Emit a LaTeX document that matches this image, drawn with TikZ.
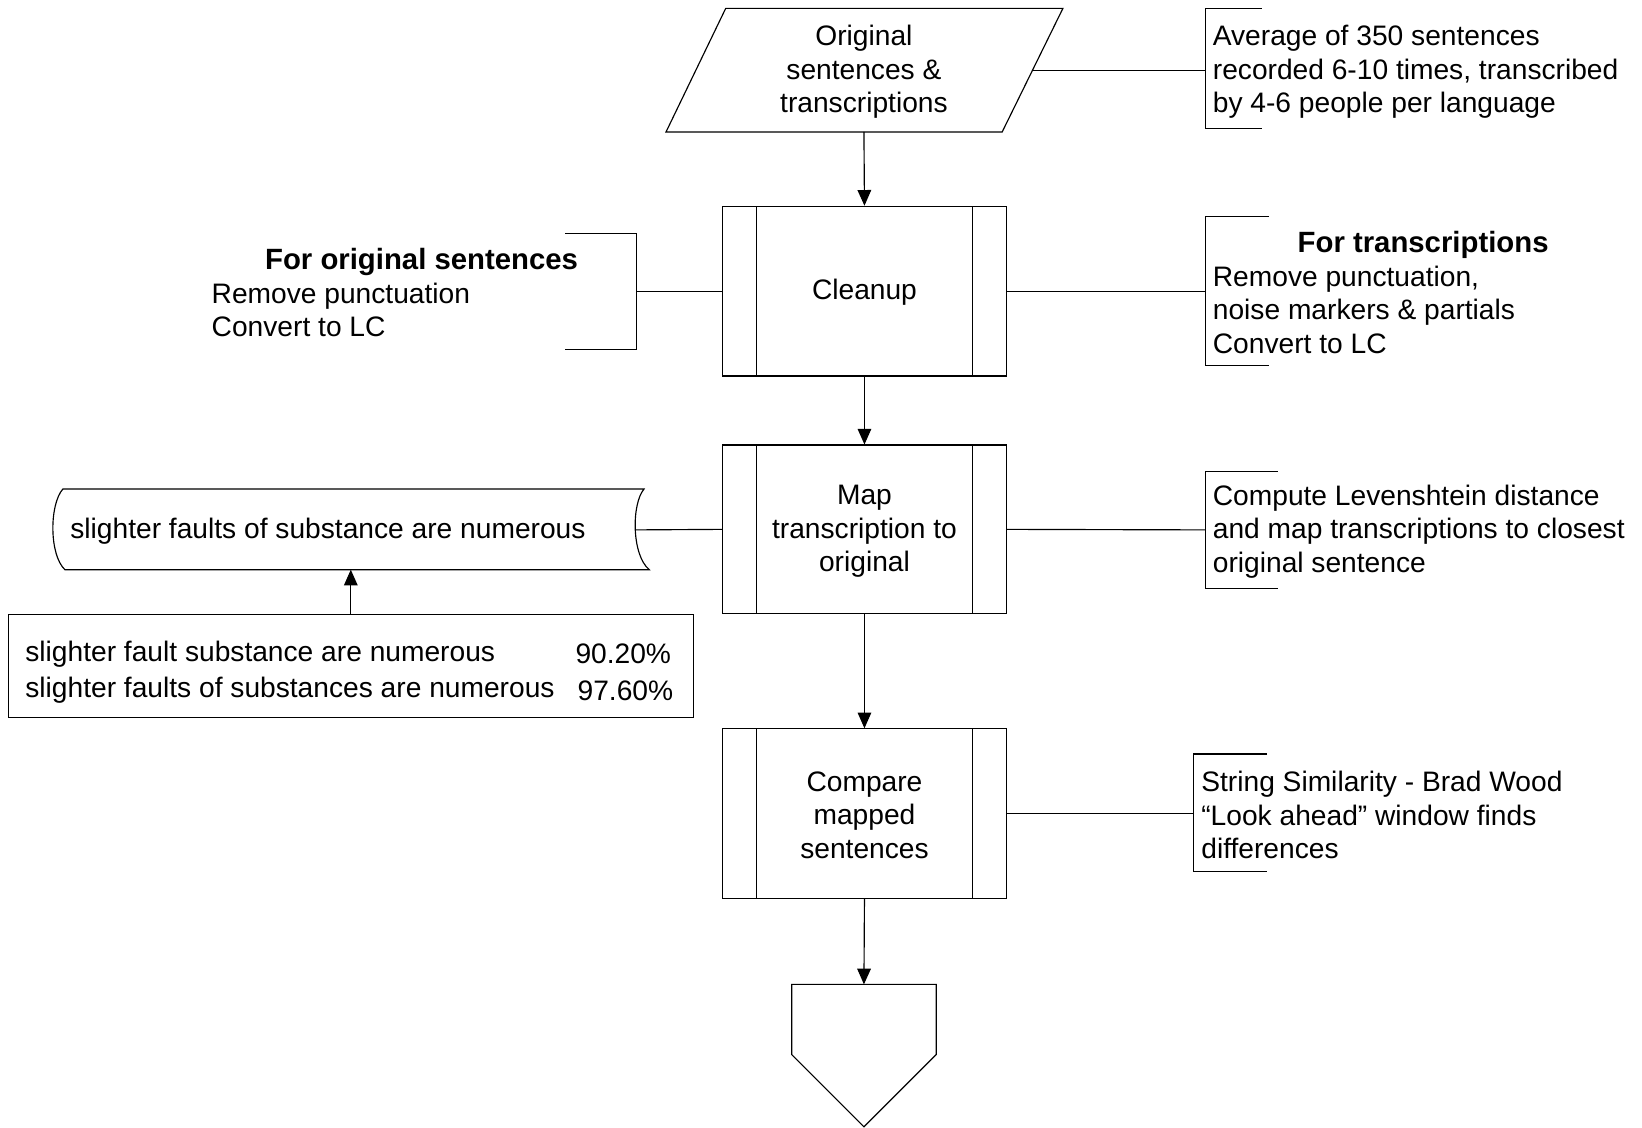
\documentclass[tikz,border=0pt]{standalone}
\usepackage{fontspec}
\setmainfont{Liberation Sans}
\usetikzlibrary{arrows.meta}
\tikzset{
  ln/.style={line width=1.1pt, draw=black},
  arr/.style={ln, -{Triangle[length=15pt,width=13pt]}},
  txt/.style={inner sep=0pt, font=\fontsize{26.9}{32}\selectfont},
  annot/.style={txt, align=left, anchor=west},
  procbox/.style={ln, rectangle, minimum width=271pt, inner sep=0pt,
    path picture={
      \draw[ln] ([xshift=32pt]path picture bounding box.north west) -- ([xshift=32pt]path picture bounding box.south west);
      \draw[ln] ([xshift=-32pt]path picture bounding box.north east) -- ([xshift=-32pt]path picture bounding box.south east);
    }},
}
\newcommand{\ttl}[1]{{\fontsize{28}{32}\selectfont\bfseries #1}}
\begin{document}
\begin{tikzpicture}[x=1pt,y=-1pt]
\useasboundingbox (0,0) rectangle (1568,1077);

% input parallelogram
\draw[ln] (693,8) -- (1015,8) -- (957,126) -- (636,126) -- cycle;
\node[txt, align=center] (orig) at (825,68.5) {Original\\sentences \&\\transcriptions};
\coordinate (origS) at (825,126);
\coordinate (origE) at (986,67);

% process boxes
\node[procbox, minimum height=162pt] (clean) at (825.5,278) {};
\node[txt, align=center] (cleanT) at (825.5,279.5) {Cleanup};
\node[procbox, minimum height=161pt] (map) at (825.5,505.5) {};
\node[txt, align=center] (mapT) at (825.5,507.5) {Map\\transcription to\\original};
\node[procbox, minimum height=162pt] (comp) at (825.5,777) {};
\node[txt, align=center] (compT) at (825.5,778.5) {Compare\\mapped\\sentences};

% off-page connector
\draw[ln] (756,940) -- (894,940) -- (894,1007) -- (825,1076) -- (756,1007) -- cycle;
\coordinate (offtop) at (825,940);

% stored data (tape)
\draw[ln] (60,467) .. controls (47,482) and (47,530) .. (62,544) -- (620,544)
  .. controls (603,530) and (603,481) .. (615,467) -- cycle;
\node[annot] (tape) at (67,507.5) {slighter faults of substance are numerous};
\coordinate (tapeE) at (607,506);
\coordinate (tapeS) at (335,544);

% results box
\node[ln, rectangle, minimum width=654pt, minimum height=98pt, inner sep=0pt] (res) at (335,636) {};
\node[txt, anchor=west] (r1a) at (24,624.5) {slighter fault substance are numerous};
\node[txt, anchor=east] (r1b) at (641,624.5) {90.20\%};
\node[txt, anchor=west] (r2a) at (24,659.5) {slighter faults of substances are numerous};
\node[txt, anchor=east] (r2b) at (643,659.5) {97.60\%};

% main flow arrows
\draw[arr] (origS) -- (clean.north);
\draw[arr] (clean.south) -- (map.north);
\draw[arr] (map.south) -- (comp.north);
\draw[arr] (comp.south) -- (offtop);
\draw[arr] (res.north) -- (tapeS);
\draw[ln] (map.west) -- (tapeE);

% annotation 1
\draw[ln] (1205,8) -- (1151,8) -- (1151,123) -- (1205,123);
\coordinate (b1) at (1151,67);
\draw[ln] (origE) -- (b1);
\node[annot] (a1) at (1158,68.5) {Average of 350 sentences\\recorded 6-10 times, transcribed\\by 4-6 people per language};

% annotation cleanup left
\draw[ln] (540,223) -- (608,223) -- (608,334) -- (540,334);
\coordinate (bL) at (608,278);
\draw[ln] (bL) -- (clean.west);
\node[annot] (aL) at (202,279.5) {\hspace*{51pt}\ttl{For original sentences}\\Remove punctuation\\Convert to LC};

% annotation cleanup right
\draw[ln] (1212,207) -- (1151,207) -- (1151,349) -- (1212,349);
\coordinate (bR) at (1151,278);
\draw[ln] (clean.east) -- (bR);
\node[annot] (aR) at (1158,279.5) {\hspace*{81pt}\ttl{For transcriptions}\\Remove punctuation,\\noise markers \& partials\\Convert to LC};

% annotation map
\draw[ln] (1220,450) -- (1151,450) -- (1151,562) -- (1220,562);
\coordinate (bM) at (1151,506);
\draw[ln] (map.east) -- (bM);
\node[annot] (aM) at (1158,507.5) {Compute Levenshtein distance\\and map transcriptions to closest\\original sentence};

% annotation compare
\draw[ln] (1210,720) -- (1140,720) -- (1140,832) -- (1210,832);
\coordinate (bC) at (1140,777);
\draw[ln] (comp.east) -- (bC);
\node[annot] (aC) at (1147,778.5) {String Similarity - Brad Wood\\“Look ahead” window finds\\differences};
\end{tikzpicture}
\end{document}
